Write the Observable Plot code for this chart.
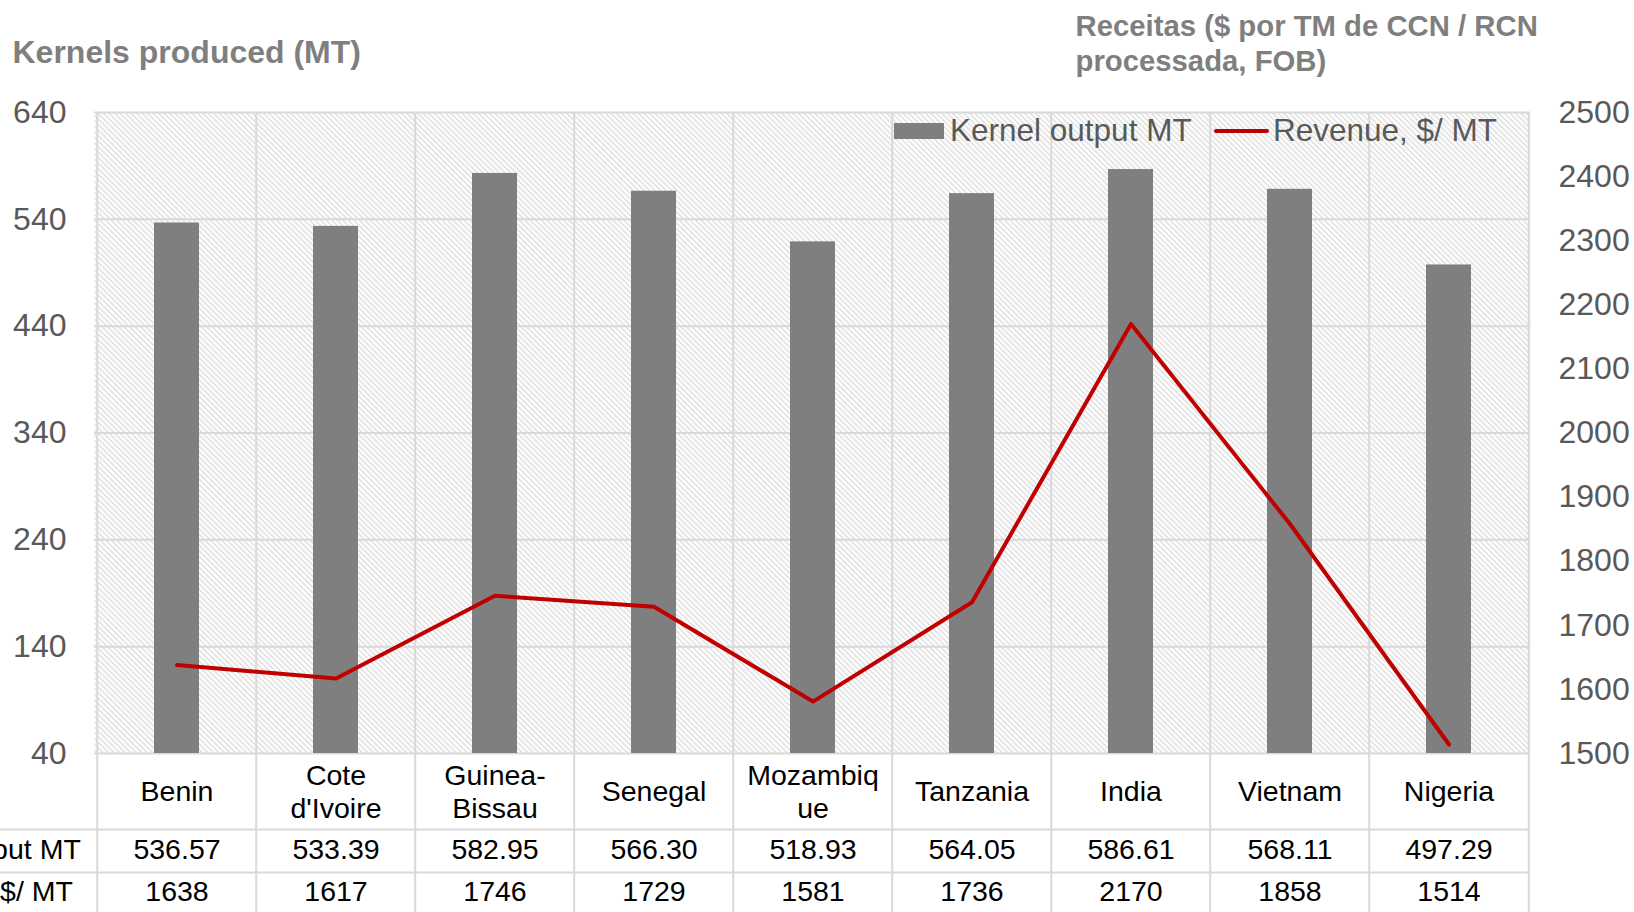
<!DOCTYPE html>
<html>
<head>
<meta charset="utf-8">
<script src="https://cdn.jsdelivr.net/npm/d3@7"></script>
<script src="https://cdn.jsdelivr.net/npm/@observablehq/plot@0.6"></script>
<style>
  html, body { margin: 0; padding: 0; background: #fff; overflow: hidden; }
  #wrap { position: relative; width: 1634px; height: 912px; font-family: "Liberation Sans", Arial, sans-serif; }
  .leg { position: absolute; font-size: 31.5px; color: #595959; line-height: 1; white-space: nowrap; }
</style>
</head>
<body>
<div id="wrap"></div>
<script>
// ---- data ----
const countries = ["Benin", "Cote d'Ivoire", "Guinea-Bissau", "Senegal", "Mozambique", "Tanzania", "India", "Vietnam", "Nigeria"];
const countryLabels = ["Benin", "Cote\nd'Ivoire", "Guinea-\nBissau", "Senegal", "Mozambiq\nue", "Tanzania", "India", "Vietnam", "Nigeria"];
const kernelOutput = [536.57, 533.39, 582.95, 566.30, 518.93, 564.05, 586.61, 568.11, 497.29];
const revenue = [1638, 1617, 1746, 1729, 1581, 1736, 2170, 1858, 1514];
const leftTicks = [40, 140, 240, 340, 440, 540, 640];
const rightTicks = [1500, 1600, 1700, 1800, 1900, 2000, 2100, 2200, 2300, 2400, 2500];
const seriesNames = ["Kernel output MT", "Revenue, $/ MT"];
const leftTitle = "Kernels produced (MT)";
const rightTitle = "Receitas ($ por TM de CCN / RCN\nprocessada, FOB)";

// ---- build ----
const data = countries.map((c, i) => ({country: c, label: countryLabels[i], kernel: kernelOutput[i], revenue: revenue[i]}));
// map right-axis domain [1500, 2500] onto left-axis domain [40, 640]
const toLeft = v => 40 + (v - 1500) * (600 / 1000);
const fromLeft = v => String(Math.round(1500 + (v - 40) * (1000 / 600)));

const grid = "#d9d9d9";
const W = 1634, H = 912, mL = 94, mR = 104, mT = 112, mB = 159;
const half = (W - mL - mR) / countries.length / 2;
const tableText = {fontSize: 28.5, fill: "black", lineAnchor: "middle"};

const chart = Plot.plot({
  width: W,
  height: H,
  marginLeft: mL,
  marginRight: mR,
  marginTop: mT,
  marginBottom: mB,
  style: {fontFamily: "'Liberation Sans', Arial, sans-serif", fontSize: "32px", color: "#595959", background: "transparent", overflow: "visible"},
  x: {type: "band", domain: countries, padding: 0, axis: null},
  y: {domain: [40, 640], axis: null},
  marks: [
    Plot.frame({fill: "white", stroke: null}),
    Plot.gridY(leftTicks, {stroke: grid, strokeOpacity: 1, strokeWidth: 2}),
    Plot.ruleX(countries, {x: d => d, dx: -half, stroke: grid, strokeWidth: 2, insetBottom: -mB}),
    Plot.ruleX([countries[countries.length - 1]], {x: d => d, dx: half, stroke: grid, strokeWidth: 2, insetBottom: -mB}),
    Plot.ruleY([40], {dy: 76, stroke: grid, strokeWidth: 2, insetLeft: -mL}),
    Plot.ruleY([40], {dy: 119, stroke: grid, strokeWidth: 2, insetLeft: -mL}),
    Plot.barY(data, {x: "country", y1: 40, y2: "kernel", fill: "#7f7f7f", insetLeft: 57, insetRight: 57}),
    Plot.line(data, {x: "country", y: d => toLeft(d.revenue), stroke: "#c00000", strokeWidth: 4, strokeLinecap: "round", strokeLinejoin: "round"}),
    Plot.axisY(leftTicks, {anchor: "left", tickSize: 0, tickPadding: 28, label: null, fill: "#595959"}),
    Plot.axisY(rightTicks.map(toLeft), {anchor: "right", tickSize: 0, tickPadding: 28, label: null, tickFormat: fromLeft, fill: "#595959"}),
    Plot.text(data, {x: "country", text: "label", frameAnchor: "bottom", dy: 37, lineHeight: 1.16, ...tableText}),
    Plot.text(data, {x: "country", text: d => d.kernel.toFixed(2), frameAnchor: "bottom", dy: 96, ...tableText}),
    Plot.text(data, {x: "country", text: d => String(d.revenue), frameAnchor: "bottom", dy: 138, ...tableText}),
    Plot.text([seriesNames[0]], {text: d => d, frameAnchor: "bottom-left", dx: -123, dy: 96, textAnchor: "middle", ...tableText}),
    Plot.text([seriesNames[1]], {text: d => d, frameAnchor: "bottom-left", dx: -123, dy: 138, textAnchor: "middle", ...tableText}),
    Plot.text([leftTitle], {text: d => d, frameAnchor: "top-left", dx: -82, dy: -60, textAnchor: "start", lineAnchor: "middle", fontWeight: "bold", fontSize: 32, fill: "#7f7f7f"}),
    Plot.text([rightTitle], {text: d => d, frameAnchor: "top-right", dx: -455, dy: -70, textAnchor: "start", lineAnchor: "middle", fontWeight: "bold", fontSize: 29.3, fill: "#7f7f7f", lineHeight: 1.17})
  ]
});

// hatch pattern for the plot area background
const svg = d3.select(chart);
const defs = svg.insert("defs", ":first-child");
const P = 3.9;
const pat = defs.append("pattern")
  .attr("id", "hatch")
  .attr("patternUnits", "userSpaceOnUse")
  .attr("width", P)
  .attr("height", P)
  .attr("patternTransform", "rotate(-45)");
pat.append("rect").attr("width", P).attr("height", P).attr("fill", "white");
pat.append("rect").attr("width", 1.7).attr("height", P).attr("fill", "#e2e2e2");
svg.select("[aria-label=frame]").attr("fill", "url(#hatch)");
svg.selectAll("[aria-label=frame] rect").attr("fill", "url(#hatch)");

const wrap = document.getElementById("wrap");
wrap.appendChild(chart);

// legend (inside plot, top right)
function addLeg(html, style) {
  const d = document.createElement("div");
  d.className = "leg";
  Object.assign(d.style, style);
  d.innerHTML = html;
  wrap.appendChild(d);
}
addLeg("", {left: "894px", top: "123px", width: "50px", height: "16px", background: "#7f7f7f"});
addLeg(seriesNames[0], {left: "950px", top: "115px"});
addLeg("", {left: "1214px", top: "129px", width: "55px", height: "4px", background: "#c00000", borderRadius: "2px"});
addLeg(seriesNames[1], {left: "1273px", top: "115px"});
</script>
</body>
</html>
